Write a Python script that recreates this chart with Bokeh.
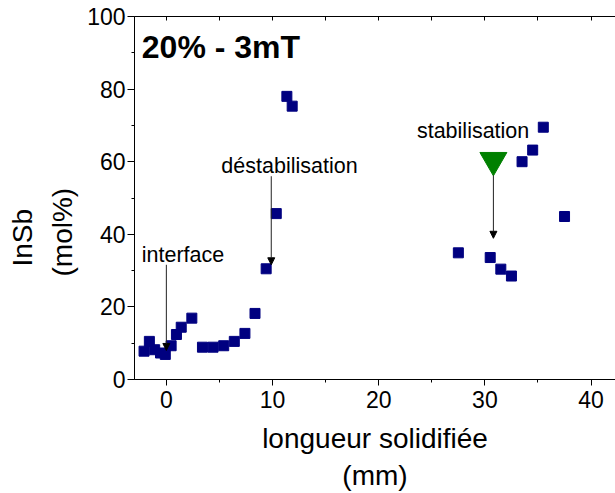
from bokeh.plotting import figure
from bokeh.models import (Range1d, LinearAxis, SingleIntervalTicker, Label,
                          Arrow, NormalHead, ColumnDataSource, Title,
                          CustomJSTickFormatter)
from bokeh.embed import file_html
from bokeh.resources import INLINE

FONT = "Liberation Sans"

# ---- data -------------------------------------------------------------
length_mm = [-2.1, -1.6, -1.1, -0.55, -0.1, 0.45, 0.95, 1.4, 2.4,
             3.4, 4.4, 5.4, 6.4, 7.4, 8.35, 9.4, 10.35, 11.35, 11.85,
             27.5, 30.5, 31.5, 32.5, 33.5, 34.5, 35.5, 37.5]
insb_mol = [7.8, 10.5, 8.2, 7.3, 6.9, 9.3, 12.4, 14.4, 16.9,
            8.9, 8.9, 9.3, 10.5, 12.7, 18.2, 30.5, 45.7, 78.0, 75.3,
            34.9, 33.6, 30.4, 28.5, 60.0, 63.2, 69.5, 44.9]

marker_x = [30.8]
marker_y = [60.4]

# annotations: text, x, y (data units)
ann_text = ["interface", "déstabilisation", "stabilisation"]
ann_x = [-2.32, 5.18, 23.6]
ann_y = [34.4, 58.9, 68.5]

# arrows: x, y_start, y_end
arrow_x = [0.0, 9.88, 30.8]
arrow_y0 = [31.6, 56.0, 56.2]
arrow_y1 = [8.0, 31.6, 38.9]

x_ticks_interval = 10
y_ticks_interval = 20

# ---- figure -----------------------------------------------------------
p = figure(width=615, height=493, output_backend="svg", toolbar_location=None,
           x_range=Range1d(-3.0, 42.3), y_range=Range1d(0, 100),
           min_border_left=134, min_border_right=0, min_border_top=16,
           min_border_bottom=110)
p.outline_line_color = None
p.grid.visible = False
p.background_fill_color = "white"
p.border_fill_color = "white"

xaxis = p.xaxis[0]
xaxis.ticker = SingleIntervalTicker(interval=x_ticks_interval, num_minor_ticks=2)
yaxis = p.yaxis[0]
yaxis.ticker = SingleIntervalTicker(interval=y_ticks_interval, num_minor_ticks=2)

for ax in (xaxis, yaxis):
    ax.axis_line_color = "black"
    ax.axis_line_width = 1
    ax.major_tick_line_color = "black"
    ax.minor_tick_line_color = "black"
    ax.major_tick_in = 0
    ax.minor_tick_in = 0
    ax.major_label_text_font = FONT
    ax.major_label_text_font_size = "23px"
    ax.major_label_text_color = "black"

xaxis.major_tick_out = 6
xaxis.minor_tick_out = 3
xaxis.major_label_standoff = 5
xaxis.axis_label = "longueur solidifiée\n(mm)"
xaxis.axis_label_text_font = FONT
xaxis.axis_label_text_font_size = "28px"
xaxis.axis_label_text_font_style = "normal"
xaxis.axis_label_text_color = "black"
xaxis.axis_label_standoff = 12

yaxis.major_tick_out = 7
yaxis.minor_tick_out = 3
yaxis.major_label_standoff = 2

top = LinearAxis(ticker=SingleIntervalTicker(interval=5, num_minor_ticks=0),
                 formatter=CustomJSTickFormatter(code="return ''"))
top.major_tick_in = 4
top.major_tick_out = 0
top.minor_tick_in = 0
top.minor_tick_out = 0
top.major_label_text_font_size = "2px"
top.major_label_standoff = 0
top.axis_line_color = "black"
top.major_tick_line_color = "black"
p.add_layout(top, "above")

# y axis title, two lines, as side titles (anchored from the bottom)
p.add_layout(Title(text="(mol%)", align="left", offset=103, standoff=14,
                   text_font=FONT, text_font_size="28px",
                   text_font_style="normal", text_color="black"), "left")
p.add_layout(Title(text="InSb", align="left", offset=113, standoff=0,
                   text_font=FONT, text_font_size="28px",
                   text_font_style="normal", text_color="black"), "left")

# ---- data marks ---------------------------------------------------------
src = ColumnDataSource(dict(x=length_mm, y=insb_mol))
p.scatter("x", "y", source=src, marker="square", size=10,
          fill_color="#000080", line_color="#000080")

p.scatter(marker_x, marker_y, marker="inverted_triangle", size=27,
          fill_color="#008000", line_color="#008000")

for ax_, y0, y1 in zip(arrow_x, arrow_y0, arrow_y1):
    p.add_layout(Arrow(end=NormalHead(size=7, fill_color="black", line_color="black",
                                      line_width=1),
                       x_start=ax_, y_start=y0, x_end=ax_, y_end=y1,
                       line_color="#222222", line_width=1))

for t, x, y in zip(ann_text, ann_x, ann_y):
    p.add_layout(Label(x=x, y=y, text=t, text_font=FONT, text_font_size="21.5px",
                       text_color="black", text_baseline="alphabetic",
                       text_align="left"))

p.add_layout(Label(x=-2.31, y=91.6, text="20% - 3mT", text_font=FONT,
                   text_font_size="32px", text_font_style="bold",
                   text_color="black", text_baseline="alphabetic"))

open("out.html", "w").write(file_html(p, INLINE))
